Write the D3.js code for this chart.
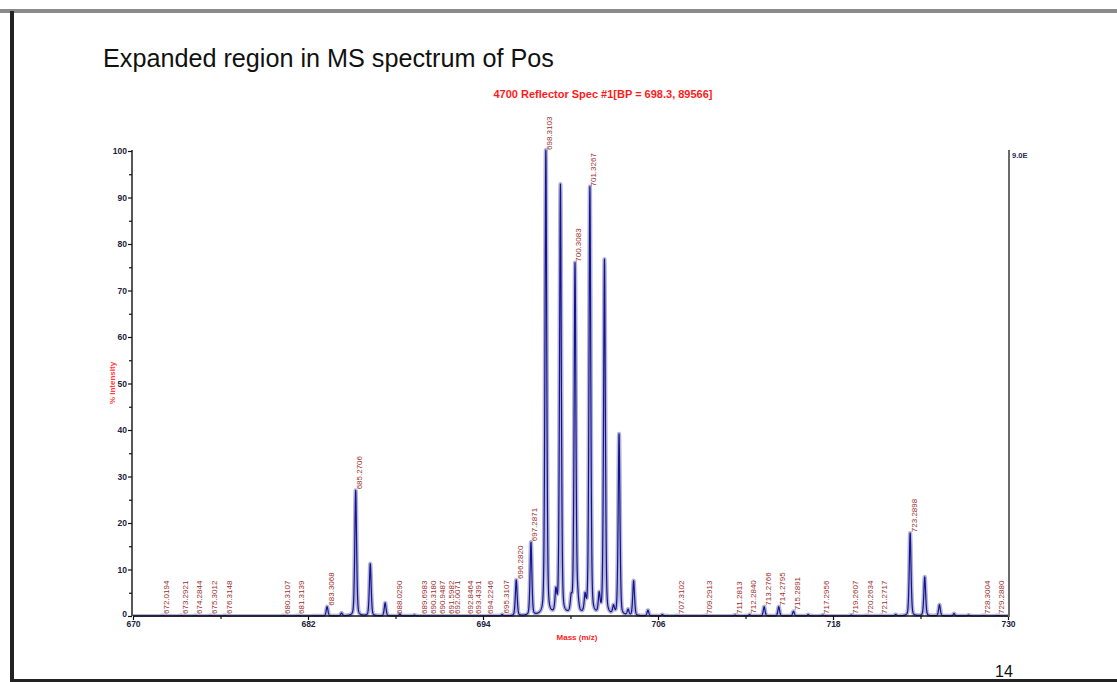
<!DOCTYPE html>
<html>
<head>
<meta charset="utf-8">
<script src="https://cdn.jsdelivr.net/npm/d3@7"></script>
<style>
html,body{margin:0;padding:0;background:#fff;}
svg{display:block;font-family:"Liberation Sans",Arial,sans-serif;}
</style>
</head>
<body>
<svg id="chart" width="1117" height="682"></svg>
<script>
// ---- data ----
const titleText = "Expanded region in MS spectrum of Pos";
const subtitleText = "4700 Reflector Spec #1[BP = 698.3, 89566]";
const xTickValues = [670, 682, 694, 706, 718, 730];
const xMinorTicks = [676, 688, 700, 712, 724];
const yTickValues = [0, 10, 20, 30, 40, 50, 60, 70, 80, 90, 100];
const yMinorTicks = [5, 15, 25, 35, 45, 55, 65, 75, 85, 95];

// spectrum peaks: centre mass and % intensity
const peakMasses = [672.02, 673.29, 674.28, 675.30, 676.31, 680.31, 681.31,
  683.31, 684.30, 685.27, 686.27, 687.29, 688.30, 689.30,
  695.31, 696.28, 697.29, 698.31, 699.00, 699.31, 700.05, 700.31, 700.50, 701.00,
  701.33, 701.97, 702.33, 702.95, 703.33, 703.95, 704.33, 705.31, 706.30,
  707.31, 709.29, 711.28, 712.28, 713.28, 714.28, 715.29, 716.30, 717.30, 719.26, 720.26, 721.27, 722.30,
  723.29, 724.29, 725.30, 726.30, 727.30, 728.30, 729.29];
const peakIntensities = [0.1, 0.1, 0.1, 0.1, 0.1, 0.1, 0.1,
  2.0, 0.6, 27.0, 11.2, 2.8, 0.4, 0.2,
  0.3, 7.7, 15.7, 100, 4.5, 92.5, 3.0, 75.5, 2.5, 3.5,
  92.0, 4.0, 76.5, 1.7, 39.0, 1.2, 7.5, 1.2, 0.3,
  0.1, 0.1, 0.2, 0.3, 2.0, 2.0, 1.0, 0.3, 0.2, 0.2, 0.1, 0.1, 0.3,
  17.8, 8.4, 2.4, 0.5, 0.2, 0.1, 0.1];

// annotated peak labels
const peakLabels = ["672.0194", "673.2921", "674.2844", "675.3012", "676.3148",
  "680.3107", "681.3139", "683.3068", "685.2706", "688.0290", "689.6983", "690.3180",
  "690.9487", "691.5982", "692.0071", "692.8464", "693.4391", "694.2246", "695.3107",
  "696.2820", "697.2871", "698.3103", "700.3083", "701.3267", "707.3102", "709.2913",
  "711.2813", "712.2840", "713.2766", "714.2795", "715.2891", "717.2956", "719.2607",
  "720.2634", "721.2717", "723.2898", "728.3004", "729.2880"];

// ---- drawing ----
const svg = d3.select("#chart");
const W = 1117, H = 682;

// slide frame
svg.append("rect").attr("x", 0).attr("y", 9).attr("width", W).attr("height", 4).attr("fill", "#8a8a8a");
svg.append("rect").attr("x", 10).attr("y", 11).attr("width", 4).attr("height", H - 11).attr("fill", "#222");
svg.append("rect").attr("x", 10).attr("y", 679).attr("width", W - 10).attr("height", 3).attr("fill", "#222");

svg.append("text").attr("x", 103).attr("y", 67).attr("font-size", 25.2).attr("fill", "#111").text(titleText);
svg.append("text").attr("x", 603).attr("y", 98).attr("text-anchor", "middle")
  .attr("font-size", 11).attr("font-weight", "bold").attr("fill", "#ff1a1a").text(subtitleText);
svg.append("text").attr("x", 1004).attr("y", 677).attr("text-anchor", "middle")
  .attr("font-size", 16).attr("fill", "#111").text("14");

const x = d3.scaleLinear().domain([670, 730]).range([133, 1008]);
const y = d3.scaleLinear().domain([0, 100]).range([616, 151]);

// spectrum profile
const sg = 0.065, gm = 0.06;
function profile(m) {
  let s = 0;
  for (let i = 0; i < peakMasses.length; i++) {
    const d = m - peakMasses[i];
    if (Math.abs(d) > 3) continue;
    s += peakIntensities[i] * (0.6 * Math.exp(-0.5 * (d / sg) * (d / sg)) + 0.4 / (1 + (d / gm) * (d / gm)));
  }
  return s;
}
const grid = d3.range(670, 730.0001, 0.01);
const pts = grid.map(m => [m, Math.min(profile(m), 100.5)]);
const line = d3.line().x(d => x(d[0])).y(d => y(d[1]));

svg.append("clipPath").attr("id", "pc").append("rect")
  .attr("x", 133).attr("y", 140).attr("width", 876).attr("height", 477);
const g = svg.append("g").attr("clip-path", "url(#pc)");
g.append("path").datum(pts).attr("d", line).attr("fill", "none")
  .attr("stroke", "#b4b4d8").attr("stroke-width", 4.2).attr("stroke-linejoin", "round");
g.append("path").datum(pts).attr("d", line).attr("fill", "none")
  .attr("stroke", "#141490").attr("stroke-width", 1.2).attr("stroke-linejoin", "round");

// axes
const axisColor = "#111";
svg.append("line").attr("x1", 133).attr("x2", 1009).attr("y1", 616).attr("y2", 616)
  .attr("stroke", axisColor).attr("stroke-width", 1.4);
const xAxisG = svg.append("g").attr("transform", "translate(0,616)")
  .call(d3.axisBottom(x).tickValues(xTickValues).tickSize(4).tickFormat(d3.format("d")));
xAxisG.select(".domain").remove();
xAxisG.selectAll("line").attr("stroke", axisColor).attr("stroke-width", 1.2);
xAxisG.selectAll("text").attr("font-size", 8.5).attr("font-weight", "bold").attr("fill", "#23233c")
  .attr("y", 5).attr("font-family", "Liberation Sans, Arial, sans-serif");
const xMinorG = svg.append("g").attr("transform", "translate(0,616)")
  .call(d3.axisBottom(x).tickValues(xMinorTicks).tickSize(3).tickFormat(""));
xMinorG.select(".domain").remove();
xMinorG.selectAll("line").attr("stroke", axisColor).attr("stroke-width", 1.2);

const yAxisG = svg.append("g").attr("transform", "translate(132,0)")
  .call(d3.axisLeft(y).tickValues(yTickValues).tickSize(4).tickPadding(1).tickFormat(d3.format("d")));
yAxisG.select(".domain").attr("stroke", axisColor).attr("stroke-width", 1.4).attr("d", "M0,150V616");
yAxisG.selectAll("line").attr("stroke", axisColor).attr("stroke-width", 1.2);
yAxisG.selectAll("text").attr("font-size", 8.5).attr("font-weight", "bold").attr("fill", "#23233c")
  .attr("font-family", "Liberation Sans, Arial, sans-serif");
yAxisG.selectAll(".tick").filter(d => d === 0).select("text").attr("dy", "0.1em");
const yMinorG = svg.append("g").attr("transform", "translate(132,0)")
  .call(d3.axisLeft(y).tickValues(yMinorTicks).tickSize(3).tickFormat(""));
yMinorG.select(".domain").remove();
yMinorG.selectAll("line").attr("stroke", axisColor).attr("stroke-width", 1.2);

svg.append("line").attr("x1", 1009).attr("x2", 1009).attr("y1", 150).attr("y2", 617)
  .attr("stroke", "#6a6a6a").attr("stroke-width", 2);
svg.append("text").attr("x", 1012).attr("y", 158).attr("font-size", 7.5).attr("font-weight", "bold")
  .attr("fill", "#2a2a55").text("9.0E");

svg.append("text").attr("transform", "translate(115,383) rotate(-90)").attr("text-anchor", "middle")
  .attr("font-size", 8).attr("font-weight", "bold").attr("fill", "#ff4040").text("% Intensity");
svg.append("text").attr("x", 577).attr("y", 640).attr("text-anchor", "middle")
  .attr("font-size", 8).attr("font-weight", "bold").attr("fill", "#ff2020").text("Mass (m/z)");

// peak labels
svg.append("g").selectAll("text").data(peakLabels).join("text")
  .attr("transform", d => {
    const m = +d;
    let h = 0;
    for (let k = -0.05; k <= 0.05; k += 0.01) h = Math.max(h, profile(m + k));
    h = Math.min(h, 100);
    const yy = Math.min(y(h) - 1, 614);
    return `translate(${x(m) + 6.5},${yy}) rotate(-90)`;
  })
  .attr("font-size", 8).attr("fill", "#9a2e2e").text(d => d);
</script>
</body>
</html>
